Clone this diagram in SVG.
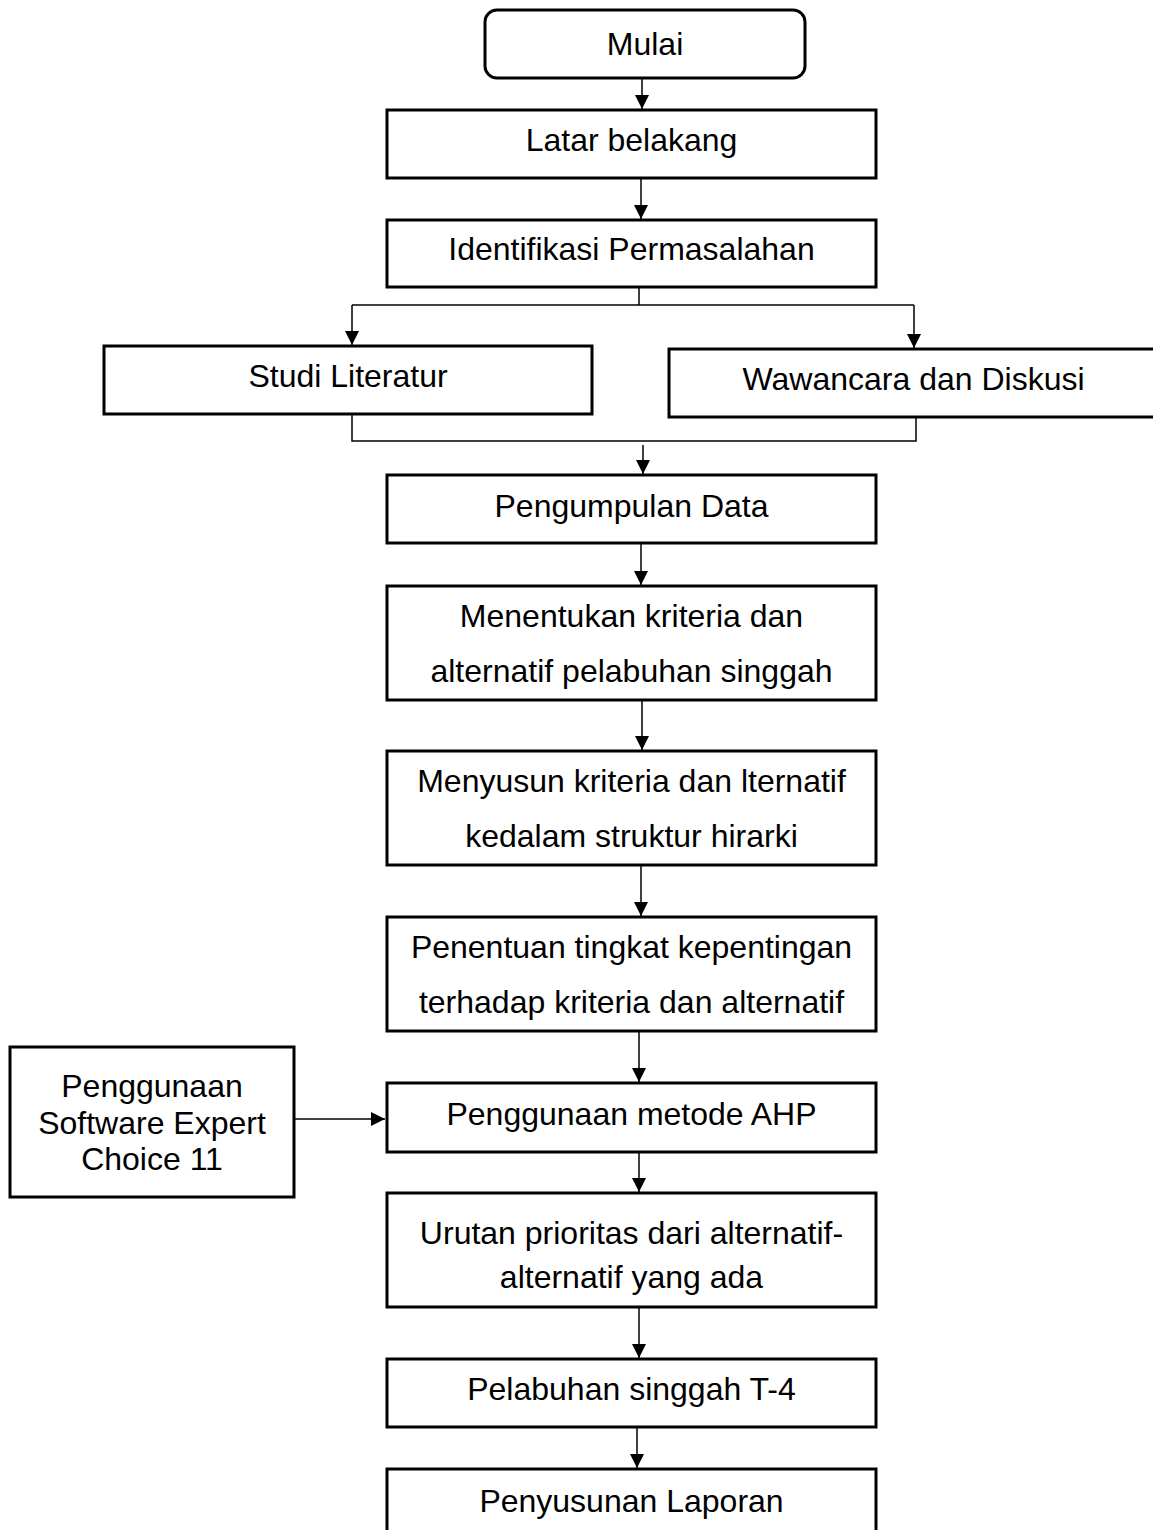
<svg xmlns="http://www.w3.org/2000/svg" width="1153" height="1530" viewBox="0 0 1153 1530">
  <style>
    .box { fill: #ffffff; stroke: #000000; stroke-width: 3; }
    .lbl { font-family: "Liberation Sans", Arial, sans-serif; font-size: 32px; fill: #000000; text-anchor: middle; }
    .wire { fill: none; stroke: #000000; stroke-width: 1.5; }
    .arrow { fill: none; stroke: #000000; stroke-width: 1.5; marker-end: url(#head); }
  </style>
  <defs>
    <marker id="head" viewBox="0 0 14 14" refX="14" refY="7" markerWidth="14" markerHeight="14" markerUnits="userSpaceOnUse" orient="auto">
      <path d="M0,0 L14,7 L0,14 Z" fill="#000000"/>
    </marker>
  </defs>
  <rect width="1153" height="1530" fill="#ffffff"/>

  <g id="connectors">
    <line class="arrow" x1="642" y1="78" x2="642" y2="109"/>
    <line class="arrow" x1="641" y1="178" x2="641" y2="219"/>
    <!-- split to the two parallel activities -->
    <polyline class="wire" points="639,287 639,305"/>
    <polyline class="wire" points="352,305 914,305"/>
    <line class="arrow" x1="352" y1="305" x2="352" y2="345"/>
    <line class="arrow" x1="914" y1="305" x2="914" y2="348"/>
    <!-- join of the two activities -->
    <polyline class="wire" points="352,414 352,441 916,441 916,417"/>
    <line class="arrow" x1="643" y1="445" x2="643" y2="474"/>
    <line class="arrow" x1="641" y1="543" x2="641" y2="585"/>
    <line class="arrow" x1="642" y1="700" x2="642" y2="750"/>
    <line class="arrow" x1="641" y1="865" x2="641" y2="916"/>
    <line class="arrow" x1="639" y1="1031" x2="639" y2="1082"/>
    <line class="arrow" x1="294" y1="1119" x2="385" y2="1119"/>
    <line class="arrow" x1="639" y1="1152" x2="639" y2="1192"/>
    <line class="arrow" x1="639" y1="1307" x2="639" y2="1358"/>
    <line class="arrow" x1="637" y1="1427" x2="637" y2="1468"/>
  </g>

  <g id="mulai">
    <rect class="box" x="485" y="10" width="320" height="68" rx="12" ry="12" stroke-width="2.5"/>
    <text class="lbl" x="645" y="55">Mulai</text>
  </g>
  <g id="latar-belakang">
    <rect class="box" x="387" y="110" width="489" height="68"/>
    <text class="lbl" x="631.5" y="151">Latar belakang</text>
  </g>
  <g id="identifikasi">
    <rect class="box" x="387" y="220" width="489" height="67"/>
    <text class="lbl" x="631.5" y="260">Identifikasi Permasalahan</text>
  </g>
  <g id="studi-literatur">
    <rect class="box" x="104" y="346" width="488" height="68"/>
    <text class="lbl" x="348" y="387">Studi Literatur</text>
  </g>
  <g id="wawancara">
    <rect class="box" x="669" y="349" width="490" height="68"/>
    <text class="lbl" x="913.5" y="390">Wawancara dan Diskusi</text>
  </g>
  <g id="pengumpulan-data">
    <rect class="box" x="387" y="475" width="489" height="68"/>
    <text class="lbl" x="631.5" y="517">Pengumpulan Data</text>
  </g>
  <g id="menentukan">
    <rect class="box" x="387" y="586" width="489" height="114"/>
    <text class="lbl" x="631.5" y="627">Menentukan kriteria dan</text>
    <text class="lbl" x="631.5" y="682">alternatif pelabuhan singgah</text>
  </g>
  <g id="menyusun">
    <rect class="box" x="387" y="751" width="489" height="114"/>
    <text class="lbl" x="631.5" y="792">Menyusun kriteria dan lternatif</text>
    <text class="lbl" x="631.5" y="847">kedalam struktur hirarki</text>
  </g>
  <g id="penentuan">
    <rect class="box" x="387" y="917" width="489" height="114"/>
    <text class="lbl" x="631.5" y="958">Penentuan tingkat kepentingan</text>
    <text class="lbl" x="631.5" y="1013">terhadap kriteria dan alternatif</text>
  </g>
  <g id="software">
    <rect class="box" x="10" y="1047" width="284" height="150"/>
    <text class="lbl" x="152" y="1097">Penggunaan</text>
    <text class="lbl" x="152" y="1134">Software Expert</text>
    <text class="lbl" x="152" y="1170">Choice 11</text>
  </g>
  <g id="metode-ahp">
    <rect class="box" x="387" y="1083" width="489" height="69"/>
    <text class="lbl" x="631.5" y="1125">Penggunaan metode AHP</text>
  </g>
  <g id="urutan-prioritas">
    <rect class="box" x="387" y="1193" width="489" height="114"/>
    <text class="lbl" x="631.5" y="1244">Urutan prioritas dari alternatif-</text>
    <text class="lbl" x="631.5" y="1288">alternatif yang ada</text>
  </g>
  <g id="pelabuhan-singgah">
    <rect class="box" x="387" y="1359" width="489" height="68"/>
    <text class="lbl" x="631.5" y="1400">Pelabuhan singgah T-4</text>
  </g>
  <g id="penyusunan-laporan">
    <rect class="box" x="387" y="1469" width="489" height="80"/>
    <text class="lbl" x="631.5" y="1512">Penyusunan Laporan</text>
  </g>
</svg>
